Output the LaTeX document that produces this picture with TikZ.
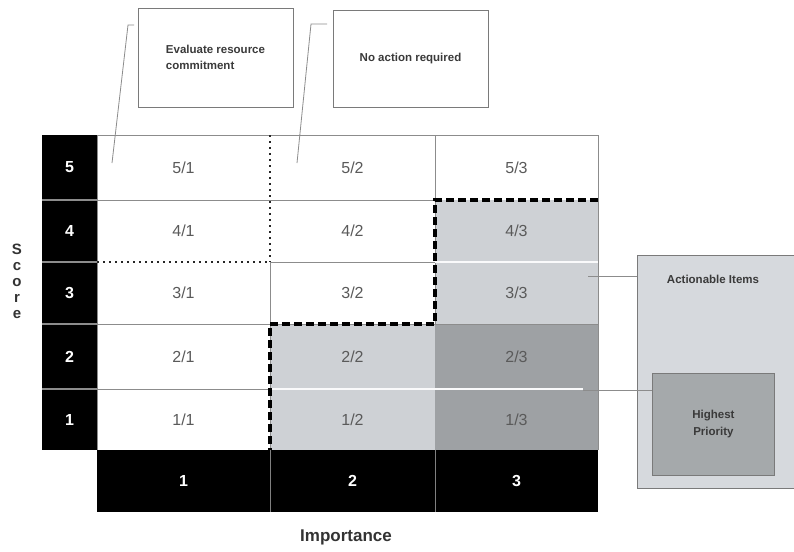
\documentclass[tikz,border=0pt]{standalone}
\usepackage{fontspec}
\setmainfont{Liberation Sans}
\definecolor{celltext}{HTML}{5A5A5A}
\definecolor{lightcell}{RGB}{206,209,213}
\definecolor{darkcell}{RGB}{158,161,164}
\definecolor{gridgray}{HTML}{8C8C8C}
\definecolor{actfill}{RGB}{214,217,221}
\definecolor{hpfill}{RGB}{165,169,171}
\definecolor{boxline}{HTML}{7A7A7A}
\definecolor{labeltext}{HTML}{3A3A3A}
\begin{document}
\begin{tikzpicture}[x=1pt,y=-1pt,
  cell/.style={rectangle, inner sep=0pt, outer sep=0pt, anchor=north west,
    minimum width=#1, font=\fontsize{16}{16}\selectfont, text=celltext},
  hdr/.style={rectangle, inner sep=0pt, outer sep=0pt, anchor=north west,
    fill=black, text=white, font=\bfseries\fontsize{16}{16}\selectfont},
  callout/.style={rectangle, draw=boxline, line width=0.9pt, fill=white,
    inner sep=0pt, outer sep=0pt, anchor=north west, align=left,
    text=labeltext, font=\bfseries\fontsize{11.5}{16}\selectfont},
  leader/.style={draw=gridgray, line width=0.8pt},
  gridline/.style={draw=gridgray, line width=0.9pt},
  paleline/.style={draw=white!90!lightcell, line width=2pt},
  dotline/.style={draw=black!85, line width=2pt, dash pattern=on 2pt off 4pt},
  thickdash/.style={draw=black, line width=3.6pt, dash pattern=on 8pt off 4pt},
  smalllabel/.style={text=labeltext, font=\bfseries\fontsize{11.5}{16}\selectfont, align=center}
]
\clip (0,0) rectangle (794,551);
\fill[white] (0,0) rectangle (794,551);

% matrix cells: columns at 97 / 270 / 435 / 598
\node[cell=173, minimum height=65] (c51) at (97,135) {5/1};
\node[cell=165, minimum height=65] (c52) at (270,135) {5/2};
\node[cell=163, minimum height=65] (c53) at (435,135) {5/3};
\node[cell=173, minimum height=62] (c41) at (97,200) {4/1};
\node[cell=165, minimum height=62] (c42) at (270,200) {4/2};
\node[cell=163, minimum height=62, fill=lightcell] (c43) at (435,200) {4/3};
\node[cell=173, minimum height=62] (c31) at (97,262) {3/1};
\node[cell=165, minimum height=62] (c32) at (270,262) {3/2};
\node[cell=163, minimum height=62, fill=lightcell] (c33) at (435,262) {3/3};
\node[cell=173, minimum height=65] (c21) at (97,324) {2/1};
\node[cell=165, minimum height=65, fill=lightcell] (c22) at (270,324) {2/2};
\node[cell=163, minimum height=65, fill=darkcell] (c23) at (435,324) {2/3};
\node[cell=173, minimum height=61] (c11) at (97,389) {1/1};
\node[cell=165, minimum height=61, fill=lightcell] (c12) at (270,389) {1/2};
\node[cell=163, minimum height=61, fill=darkcell] (c13) at (435,389) {1/3};

% grid lines
\draw[gridline] (c51.north west) -- (c53.north east) -- (c13.south east);
\draw[gridline] (c51.north west) -- (c11.south west);
\draw[gridline] (c41.north west) -- (c42.north east);
\draw[gridline] (c31.north east) -- (c32.north east);
\draw[gridline] (c21.north west) -- (c23.north east);
\draw[gridline] (c11.north west) -- (c11.north east);
\draw[gridline] (c52.north east) -- (c32.south east);
\draw[gridline] (c31.north east) -- (c31.south east);
\draw[gridline] (c21.north east) -- (c11.south east);
\draw[paleline] (c33.north west) -- (c33.north east);
\draw[paleline] (c12.north west) -- ([xshift=-15pt]c13.north east);

% score axis
\node[hdr, minimum width=55, minimum height=65] (s5) at (42,135) {5};
\node[hdr, minimum width=55, minimum height=62] (s4) at (42,200) {4};
\node[hdr, minimum width=55, minimum height=62] (s3) at (42,262) {3};
\node[hdr, minimum width=55, minimum height=65] (s2) at (42,324) {2};
\node[hdr, minimum width=55, minimum height=61] (s1) at (42,389) {1};
\foreach \n in {s4,s3,s2,s1}
  \draw[draw=gridgray, line width=2pt] (\n.north west) -- (\n.north east);

% importance axis
\node[hdr, minimum width=173, minimum height=62] (i1) at (97,450) {1};
\node[hdr, minimum width=165, minimum height=62] (i2) at (270,450) {2};
\node[hdr, minimum width=163, minimum height=62] (i3) at (435,450) {3};
\draw[draw=gray, line width=0.8pt] (i2.north west) -- (i2.south west);
\draw[draw=gray, line width=0.8pt] (i3.north west) -- (i3.south west);

% axis titles
\node[font=\bfseries\fontsize{15}{16}\selectfont, text=black!80, align=center,
  inner sep=0pt] (score) at (17,281) {S\\c\\o\\r\\e};
\node[font=\bfseries\fontsize{17}{17}\selectfont, text=black!80,
  inner sep=0pt] (imp) at (346,537) {Importance};

% zone boundaries
\draw[dotline] (c51.north east) -- (c41.south east);
\draw[dotline] (c31.north west) -- (c31.north east);
\draw[thickdash] (c43.north east) -- (c43.north west) -- (c33.south west)
  -- (c22.north west) -- (c12.south west);

% callouts above the matrix
\node[callout, minimum width=155, minimum height=99] (evalbox) at (138,8)
  {Evaluate resource\\commitment};
\node[callout, minimum width=155, minimum height=97] (nabox) at (333,10)
  {No action required};
\coordinate (e1) at (112,163);
\coordinate (e2) at (128,25);
\draw[leader, shorten >=4pt] (e1) -- (e2) -- (evalbox.west |- e2);
\coordinate (n1) at (297,163);
\coordinate (n2) at (311,24);
\draw[leader, shorten >=6pt] (n1) -- (n2) -- (nabox.west |- n2);

% legend on the right
\node[rectangle, draw=boxline, line width=0.8pt, fill=actfill, inner sep=0pt,
  anchor=north west, minimum width=160, minimum height=233] (act) at (637,255) {};
\node[smalllabel, inner sep=0pt] (actlbl) at (713,279) {Actionable Items};
\node[rectangle, draw=boxline, line width=0.8pt, fill=hpfill, inner sep=0pt,
  anchor=north west, minimum width=122, minimum height=102, smalllabel,
  font=\bfseries\fontsize{11.5}{17}\selectfont] (hp) at (652,373) {Highest\\Priority};
\coordinate (a1) at (588,276);
\draw[leader] (a1) -- (act.west |- a1);
\coordinate (h1) at (583,390);
\draw[leader] (h1) -- (hp.west |- h1);
\end{tikzpicture}
\end{document}
